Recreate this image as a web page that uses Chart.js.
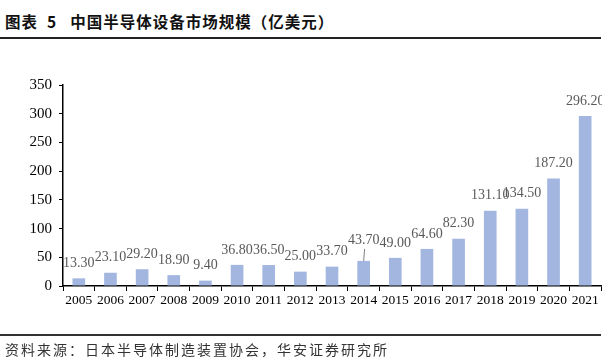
<!DOCTYPE html>
<html>
<head>
<meta charset="utf-8">
<script src="https://cdn.jsdelivr.net/npm/chart.js@4/dist/chart.umd.min.js"></script>
<style>
  body { margin: 0; background: #fff; }
  #wrap { position: relative; width: 602px; height: 358px; overflow: hidden; }
  #title { position: absolute; left: 5px; top: 10px; font: bold 15.5px "Noto Sans CJK SC"; letter-spacing: 1px; color: #111; white-space: nowrap; }
  #title .gap { display: inline-block; width: 9px; }
  #title .gap2 { display: inline-block; width: 13px; }
  #line1 { position: absolute; left: 0; top: 37px; width: 601px; height: 1.5px; background: #222; }
  #line2 { position: absolute; left: 0; top: 334px; width: 601px; height: 1.5px; background: #333; }
  #src { position: absolute; left: 5px; top: 339px; font: 14px "Noto Sans CJK SC"; letter-spacing: 2px; color: #333; white-space: nowrap; }
  canvas { position: absolute; left: 0; top: 0; }
</style>
</head>
<body>
<div id="wrap">
  <div id="title">图表<span class="gap"></span>5<span class="gap2"></span>中国半导体设备市场规模（亿美元）</div>
  <div id="line1"></div>
  <canvas id="c" width="602" height="358"></canvas>
  <div id="line2"></div>
  <div id="src">资料来源：日本半导体制造装置协会，华安证券研究所</div>
</div>
<script>
const years = ['2005','2006','2007','2008','2009','2010','2011','2012','2013','2014','2015','2016','2017','2018','2019','2020','2021']
const market = [13.3, 23.1, 29.2, 18.9, 9.4, 36.8, 36.5, 25.0, 33.7, 43.7, 49.0, 64.6, 82.3, 131.1, 134.5, 187.2, 296.2]
const yTicks = [0, 50, 100, 150, 200, 250, 300, 350]

const barLabels = {
  id: 'barLabels',
  afterDatasetsDraw(chart) {
    const ctx = chart.ctx
    const meta = chart.getDatasetMeta(0)
    ctx.save()
    ctx.font = '14px "Liberation Serif"'
    ctx.fillStyle = '#595959'
    ctx.textAlign = 'center'
    ctx.textBaseline = 'middle'
    meta.data.forEach((bar, i) => {
      let lift = 15
      // 2014 label was pushed up in the original, with a leader line
      if (i === 9) {
        lift = 21
        ctx.strokeStyle = '#7f7f7f'
        ctx.lineWidth = 1
        ctx.beginPath()
        ctx.moveTo(bar.x + 1, bar.y - 12)
        ctx.lineTo(bar.x, bar.y)
        ctx.stroke()
      }
      ctx.fillText(market[i].toFixed(2), bar.x, bar.y - lift)
    })
    ctx.restore()
  }
}

new Chart(document.getElementById('c').getContext('2d'), {
  type: 'bar',
  data: {
    labels: years,
    datasets: [{
      data: market,
      backgroundColor: '#A2B6E0',
      barPercentage: 0.8,
      categoryPercentage: 0.5
    }]
  },
  options: {
    responsive: false,
    animation: false,
    layout: { padding: { top: 85, right: 1, left: 0, bottom: 0 } },
    plugins: { legend: { display: false }, tooltip: { enabled: false } },
    scales: {
      x: {
        grid: { drawOnChartArea: false, drawTicks: true, tickLength: 5, color: '#000', offset: true },
        border: { color: '#000', width: 1.5 },
        ticks: { color: '#000', font: { family: 'Liberation Serif', size: 13.5 }, padding: 1, maxRotation: 0, autoSkip: false },
        afterFit: s => { s.height = 72 }
      },
      y: {
        min: 0, max: 350,
        afterBuildTicks: s => { s.ticks = yTicks.map(v => ({ value: v })) },
        grid: { drawOnChartArea: false, drawTicks: true, tickLength: 4, color: '#000' },
        border: { color: '#000', width: 1.5 },
        ticks: { color: '#000', font: { family: 'Liberation Serif', size: 15 }, padding: 7 },
        afterFit: s => { s.width = 63 }
      }
    }
  },
  plugins: [barLabels]
})
</script>
</body>
</html>
